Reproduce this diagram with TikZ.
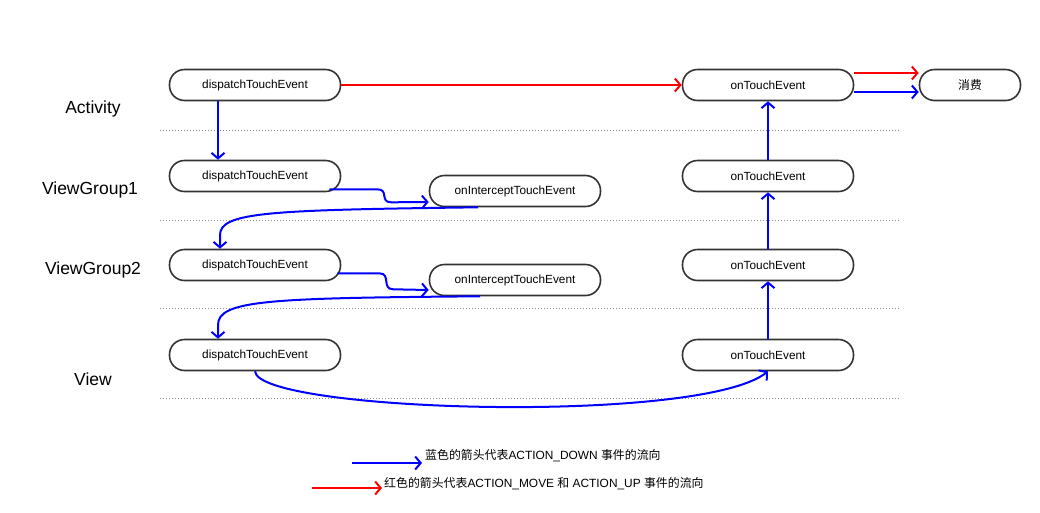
\documentclass[tikz,border=0pt]{standalone}
\usepackage{fontspec}
\setmainfont{Liberation Sans}
\newfontfamily\cjk{Noto Sans CJK SC}
\usetikzlibrary{arrows.meta}
\begin{document}
\begin{tikzpicture}[x=1pt,y=-1pt,
  box/.style={draw=black!80, line width=1.6pt, rounded corners=15pt, minimum width=171pt, minimum height=31pt, inner sep=0pt, fill=white, font=\fontsize{11.8}{14}\selectfont},
  smallbox/.style={box, minimum width=101pt},
  layer/.style={font=\fontsize{17.5}{20}\selectfont},
  sep/.style={draw=black!45, line width=1pt, dotted},
  bl/.style={draw=blue, line width=2pt, -{Straight Barb[length=5.5pt,width=13pt]}},
  rd/.style={draw=red, line width=2pt, -{Straight Barb[length=5.5pt,width=13pt]}},
  legend/.style={anchor=west, inner sep=0pt, font=\fontsize{11.9}{14}\selectfont}
]
\useasboundingbox (0,0) rectangle (1040,512);

% layer labels
\node[layer] (lA) at (93,109) {Activity};
\node[layer] (lG1) at (90,190) {ViewGroup1};
\node[layer] (lG2) at (93,270) {ViewGroup2};
\node[layer] (lV) at (93,379) {View};

% separators
\draw[sep] (160,130) -- (900,130);
\draw[sep] (160,220) -- (900,220);
\draw[sep] (160,308) -- (900,308);
\draw[sep] (160,398) -- (900,398);

% nodes
\node[box] (ad) at (255,85) {dispatchTouchEvent};
\node[box] (at) at (768,85) {onTouchEvent};
\node[smallbox] (c) at (970,85) {\cjk 消费};

\node[box] (g1d) at (255,176) {dispatchTouchEvent};
\node[box] (g1i) at (515,191) {onInterceptTouchEvent};
\node[box] (g1t) at (768,176) {onTouchEvent};

\node[box] (g2d) at (255,265) {dispatchTouchEvent};
\node[box] (g2i) at (515,280) {onInterceptTouchEvent};
\node[box] (g2t) at (768,265) {onTouchEvent};

\node[box] (vd) at (255,355) {dispatchTouchEvent};
\node[box] (vt) at (768,355) {onTouchEvent};

% arrows
\draw[rd] (ad.east) -- (at.west);
\draw[rd] ([yshift=12pt]at.east) -- ([yshift=12pt]c.west);
\draw[bl] ([yshift=-7pt]at.east) -- ([yshift=-7pt]c.west);

\draw[bl] ([xshift=-37pt]ad.south) -- ([xshift=-37pt]g1d.north);

\draw[bl] ([xshift=-12pt,yshift=3pt]g1d.south east) -- ++(48,0)
   .. controls +(12,0) and +(-12,0) .. ++(14,13) -- ([yshift=-11pt]g1i.west);
\draw[bl] ([xshift=-37pt]g1i.south) .. controls (270,210) and (220,212) .. (220,235)
   -- ([xshift=-35pt]g2d.north);

\draw[bl] ([xshift=-4pt,yshift=8pt]g2d.south east) -- ++(42,0)
   .. controls +(12,0) and +(-12,0) .. ++(14,16) -- ([yshift=-10pt]g2i.west);
\draw[bl] ([xshift=-35pt]g2i.south) .. controls (270,298) and (218,300) .. (218,325)
   -- ([xshift=-37pt]vd.north);

\draw[bl] (vd.south) .. controls (258,412) and (700,425) .. (vt.south);

\draw[bl] (vt.north) -- (g2t.south);
\draw[bl] (g2t.north) -- (g1t.south);
\draw[bl] (g1t.north) -- (at.south);

% legend
\node[legend] (lb) at (425,456) {{\cjk 蓝色的箭头代表}ACTION\_DOWN {\cjk 事件的流向}};
\node[legend] (lr) at (384,484) {{\cjk 红色的箭头代表}ACTION\_MOVE {\cjk 和} ACTION\_UP {\cjk 事件的流向}};
\coordinate (lbs) at (352,463);
\coordinate (lrs) at (312,488);
\draw[bl] (lbs) -- ([xshift=-3pt] lb.west |- lbs);
\draw[rd] (lrs) -- ([xshift=-2pt] lr.west |- lrs);
\end{tikzpicture}
\end{document}
